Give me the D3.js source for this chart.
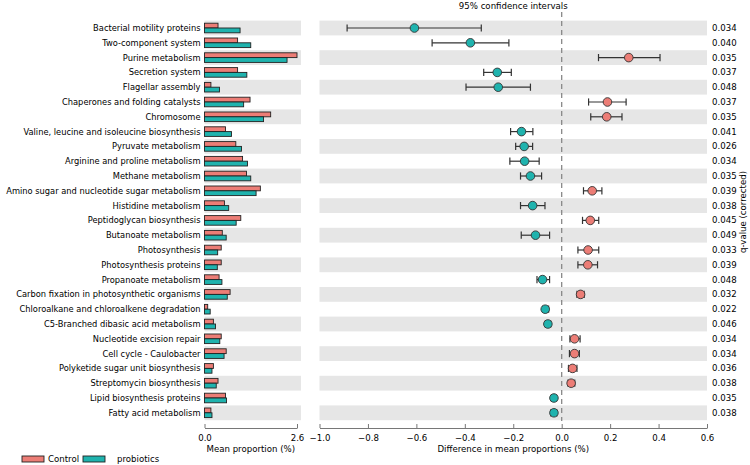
<!DOCTYPE html>
<html><head><meta charset="utf-8">
<script src="https://cdn.jsdelivr.net/npm/d3@7"></script>
<style>body{margin:0;background:#fff}text{font-family:"DejaVu Sans",sans-serif}</style>
</head><body>
<svg id="chart" width="750" height="465"></svg>
<script>
const categories = ["Bacterial motility proteins","Two-component system","Purine metabolism","Secretion system","Flagellar assembly","Chaperones and folding catalysts","Chromosome","Valine, leucine and isoleucine biosynthesis","Pyruvate metabolism","Arginine and proline metabolism","Methane metabolism","Amino sugar and nucleotide sugar metabolism","Histidine metabolism","Peptidoglycan biosynthesis","Butanoate metabolism","Photosynthesis","Photosynthesis proteins","Propanoate metabolism","Carbon fixation in photosynthetic organisms","Chloroalkane and chloroalkene degradation","C5-Branched dibasic acid metabolism","Nucleotide excision repair","Cell cycle - Caulobacter","Polyketide sugar unit biosynthesis","Streptomycin biosynthesis","Lipid biosynthesis proteins","Fatty acid metabolism"];
const controlMean = [0.38,0.93,2.60,0.93,0.18,1.28,1.86,0.59,0.88,1.07,1.18,1.57,0.56,1.02,0.50,0.47,0.47,0.41,0.72,0.09,0.25,0.47,0.61,0.25,0.38,0.59,0.18];
const probioticsMean = [1.00,1.30,2.32,1.19,0.42,1.10,1.66,0.76,1.04,1.21,1.30,1.45,0.68,0.89,0.61,0.37,0.36,0.49,0.64,0.16,0.31,0.43,0.55,0.21,0.33,0.62,0.21];
const diff = [-0.608,-0.377,0.277,-0.266,-0.262,0.189,0.186,-0.166,-0.155,-0.153,-0.129,0.126,-0.120,0.118,-0.108,0.109,0.108,-0.079,0.078,-0.068,-0.057,0.053,0.053,0.045,0.039,-0.032,-0.032];
const ciLow = [-0.886,-0.535,0.152,-0.322,-0.395,0.111,0.120,-0.211,-0.190,-0.214,-0.170,0.090,-0.170,0.086,-0.167,0.067,0.067,-0.102,0.063,-0.079,-0.068,0.034,0.032,0.028,0.026,-0.043,-0.045];
const ciHigh = [-0.332,-0.218,0.406,-0.208,-0.129,0.266,0.249,-0.119,-0.120,-0.093,-0.083,0.166,-0.069,0.153,-0.050,0.153,0.148,-0.050,0.093,-0.054,-0.045,0.076,0.073,0.063,0.054,-0.021,-0.020];
const qValues = ["0.034","0.040","0.035","0.037","0.048","0.037","0.035","0.041","0.026","0.034","0.035","0.039","0.038","0.045","0.049","0.033","0.039","0.048","0.032","0.022","0.046","0.034","0.034","0.036","0.038","0.035","0.038"];
const leftTicks = [0, 2.6];
const rightTicks = [-1.0,-0.8,-0.6,-0.4,-0.2,0.0,0.2,0.4,0.6];
const groups = ["Control","probiotics"];
const colors = {Control:"#ec7d76", probiotics:"#1fb3ae"};

const svg = d3.select("#chart");
const FS = 8.6;
const LFS = 8.3;
const y = d3.scaleBand().domain(categories).range([20.6, 420.2]).padding(0);
const xL = d3.scaleLinear().domain([0, 2.6]).range([204.5, 297]);
const xR = d3.scaleLinear().domain([-1.0, 0.6]).range([319.5, 707]);
const axisY = 428;

// bands
categories.forEach((c,i)=>{
  if(i%2===0){
    svg.append("rect").attr("x",204.5).attr("y",y(c)).attr("width",301-204.5).attr("height",y.bandwidth()).attr("fill","#e6e6e6");
    svg.append("rect").attr("x",xR(-1)).attr("y",y(c)).attr("width",xR(0.6)-xR(-1)).attr("height",y.bandwidth()).attr("fill","#e6e6e6");
  }
});

// category labels
svg.append("g").selectAll("text").data(categories).join("text")
  .attr("x",200.5).attr("y",d=>y(d)+y.bandwidth()/2).attr("dy","0.35em")
  .attr("text-anchor","end").attr("font-size",LFS).attr("fill","#000").text(d=>d);

// bars
const bh = 4.8;
const barG = svg.append("g");
categories.forEach((c,i)=>{
  const cy = y(c)+y.bandwidth()/2;
  barG.append("rect").attr("x",xL(0)).attr("y",cy-bh).attr("width",xL(controlMean[i])-xL(0)).attr("height",bh)
    .attr("fill",colors.Control).attr("stroke","#222").attr("stroke-width",0.9);
  barG.append("rect").attr("x",xL(0)).attr("y",cy).attr("width",xL(probioticsMean[i])-xL(0)).attr("height",bh)
    .attr("fill",colors.probiotics).attr("stroke","#222").attr("stroke-width",0.9);
});

// zero dashed line
svg.append("line").attr("x1",xR(0)).attr("x2",xR(0)).attr("y1",12).attr("y2",421)
  .attr("stroke","#888").attr("stroke-width",1.3).attr("stroke-dasharray","5,4");

// CI
const ciG = svg.append("g");
categories.forEach((c,i)=>{
  const cy = y(c)+y.bandwidth()/2;
  ciG.append("line").attr("x1",xR(ciLow[i])).attr("x2",xR(ciHigh[i])).attr("y1",cy).attr("y2",cy).attr("stroke","#333").attr("stroke-width",1.2);
  [ciLow[i],ciHigh[i]].forEach(v=>{
    ciG.append("line").attr("x1",xR(v)).attr("x2",xR(v)).attr("y1",cy-3.6).attr("y2",cy+3.6).attr("stroke","#333").attr("stroke-width",1.2);
  });
  ciG.append("circle").attr("cx",xR(diff[i])).attr("cy",cy).attr("r",4.3)
    .attr("fill",diff[i]>0?colors.Control:colors.probiotics).attr("stroke","#333").attr("stroke-width",0.9);
});

// q-values
svg.append("g").selectAll("text").data(qValues).join("text")
  .attr("x",712).attr("y",(d,i)=>y(categories[i])+y.bandwidth()/2).attr("dy","0.35em")
  .attr("font-size",FS).attr("fill","#000").text(d=>d);
svg.append("text").attr("transform","translate(746,212) rotate(-90)").attr("text-anchor","middle")
  .attr("font-size",FS).text("q-value (corrected)");

// title
svg.append("text").attr("x",(xR(-1)+xR(0.6))/2).attr("y",9).attr("text-anchor","middle").attr("font-size",FS).text("95% confidence intervals");

// axes
function styleAxis(g){
  g.select(".domain").attr("stroke","#777");
  g.selectAll(".tick line").attr("stroke","#777");
  g.selectAll(".tick text").attr("font-size",FS).attr("font-family","DejaVu Sans").attr("fill","#000").attr("dy","1.05em");
}
const axL = svg.append("g").attr("transform",`translate(0,${axisY})`)
  .call(d3.axisBottom(xL).tickValues(leftTicks).tickFormat(d3.format(".1f")).tickSizeInner(-4).tickSizeOuter(0).tickPadding(4));
styleAxis(axL);
const axR = svg.append("g").attr("transform",`translate(0,${axisY})`)
  .call(d3.axisBottom(xR).tickValues(rightTicks).tickFormat(d=>d3.format(".1f")(d).replace("-","\u2212")).tickSizeInner(-4).tickSizeOuter(0).tickPadding(4));
styleAxis(axR);

svg.append("text").attr("x",(xL(0)+xL(2.6))/2).attr("y",452).attr("text-anchor","middle").attr("font-size",FS).text("Mean proportion (%)");
svg.append("text").attr("x",(xR(-1)+xR(0.6))/2).attr("y",452).attr("text-anchor","middle").attr("font-size",FS).text("Difference in mean proportions (%)");

// legend
const lg = svg.append("g");
const legendX = [22, 83];
const legendTextX = [48, 117];
groups.forEach((g,i)=>{
  lg.append("rect").attr("x",legendX[i]).attr("y",456).attr("width",22).attr("height",6).attr("fill",colors[g]).attr("stroke","#222").attr("stroke-width",0.9);
  lg.append("text").attr("x",legendTextX[i]).attr("y",459).attr("dy","0.35em").attr("font-size",FS).text(g);
});
</script>
</body></html>
